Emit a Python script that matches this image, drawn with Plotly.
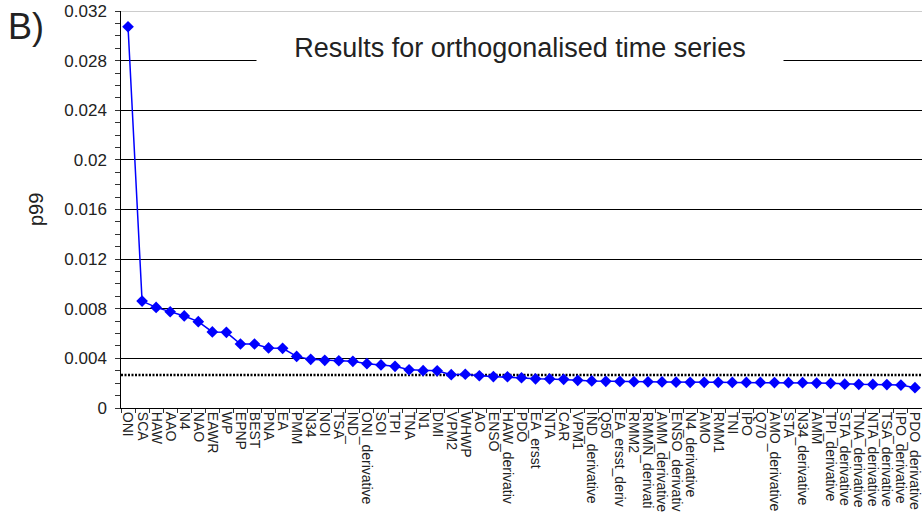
import plotly.graph_objects as go

categories = ["ONI", "SCA", "HAW", "AAO", "N4", "NAO", "EAWR", "WP", "EPNP", "BEST",
              "PNA", "EA", "PMM", "N34", "NOI", "TSA", "IND_", "ONI_derivative", "SOI", "TPI",
              "TNA", "N1", "DMI", "VPM2", "WHWP", "AO", "ENSO", "HAW_derivativ", "PDO", "EA_ersst",
              "NTA", "CAR", "VPM1", "IND_derivative", "Q50", "EA_ersst_deriv", "RMM2", "RMMN_derivati",
              "AMM_derivative", "ENSO_derivativ", "N4_derivative", "AMO", "RMM1", "TNI", "IPO", "Q70",
              "AMO_derivative", "STA", "N34_derivative", "AMM", "TPI_derivative", "STA_derivative",
              "TNA_derivative", "NTA_derivative", "TSA_derivative", "IPO_derivative", "PDO_derivative"]

p99 = [0.03073, 0.00862, 0.00811, 0.00776, 0.00742, 0.00696, 0.00613, 0.00610, 0.00516, 0.00516,
       0.00484, 0.00481, 0.00416, 0.00392, 0.00384, 0.00381, 0.00376, 0.00357, 0.00347, 0.00336,
       0.00308, 0.00301, 0.00300, 0.00269, 0.00272, 0.00260, 0.00253, 0.00252, 0.00244, 0.00235,
       0.00234, 0.00231, 0.00223, 0.00218, 0.00215, 0.00214, 0.00212, 0.00211, 0.00210, 0.00208,
       0.00207, 0.00207, 0.00207, 0.00206, 0.00206, 0.00206, 0.00205, 0.00204, 0.00204, 0.00201,
       0.00199, 0.00192, 0.00191, 0.00190, 0.00189, 0.00185, 0.00164]

threshold = 0.00266
y_ticks = [0, 0.004, 0.008, 0.012, 0.016, 0.02, 0.024, 0.028, 0.032]
y_ticktext = ["0", "0.004", "0.008", "0.012", "0.016", "0.02", "0.024", "0.028", "0.032"]

FONT = "Liberation Sans, Arial, sans-serif"
TXT = "#222222"

fig = go.Figure()
fig.add_trace(go.Scatter(
    x=categories, y=p99, mode="lines+markers",
    line=dict(color="#0000ff", width=1.5),
    marker=dict(symbol="diamond", size=9, color="#0000ff"),
    showlegend=False,
))

fig.add_shape(type="line", xref="paper", x0=0, x1=1, yref="y", y0=threshold, y1=threshold,
              line=dict(color="black", width=2.5, dash="2px,1.5px"), layer="below")
fig.add_shape(type="line", xref="paper", x0=0, x1=1, yref="y", y0=0.032, y1=0.032,
              line=dict(color="#999999", width=1))

fig.update_layout(
    width=922, height=527,
    margin=dict(l=121, r=0, t=11, b=119),
    paper_bgcolor="white", plot_bgcolor="white",
    font=dict(family=FONT, color=TXT),
    xaxis=dict(
        type="category", range=[-0.5, 56.5],
        tickmode="linear", tick0=0, dtick=1,
        tickangle=90, tickfont=dict(size=14, color=TXT),
        ticks="outside", ticklen=4, tickcolor="#333", tickson="boundaries",
        showline=True, linecolor="black", linewidth=1, showgrid=False,
    ),
    yaxis=dict(
        range=[0, 0.032], tickvals=y_ticks,
        ticktext=[t + "\u00a0" for t in y_ticktext],
        tickfont=dict(size=17, color=TXT),
        ticks="outside", ticklen=5, tickcolor="#333",
        minor=dict(dtick=0.001, tick0=0, ticks="outside", ticklen=5, tickcolor="#333", showgrid=False),
        showline=True, linecolor="black", linewidth=1,
        showgrid=True, gridcolor="black", gridwidth=1, zeroline=False,
    ),
    annotations=[
        dict(text="Results for orthogonalised time series", xref="paper", yref="paper",
             x=(519.5 - 121) / 801, y=(408 - 48) / 397, xanchor="center", yanchor="middle",
             showarrow=False, font=dict(size=27, color=TXT), bgcolor="white",
             width=526, height=30, borderpad=0),
        dict(text="B)", xref="paper", yref="paper", x=(6 - 121) / 801, y=(408 - 26.5) / 397,
             xanchor="left", yanchor="middle", showarrow=False, font=dict(size=36, color=TXT)),
        dict(text="p99", xref="paper", yref="paper", x=(36 - 121) / 801, y=(408 - 210) / 397,
             xanchor="center", yanchor="middle", textangle=-90, showarrow=False,
             font=dict(size=20, color=TXT)),
    ],
)

fig.write_html("out.html")
